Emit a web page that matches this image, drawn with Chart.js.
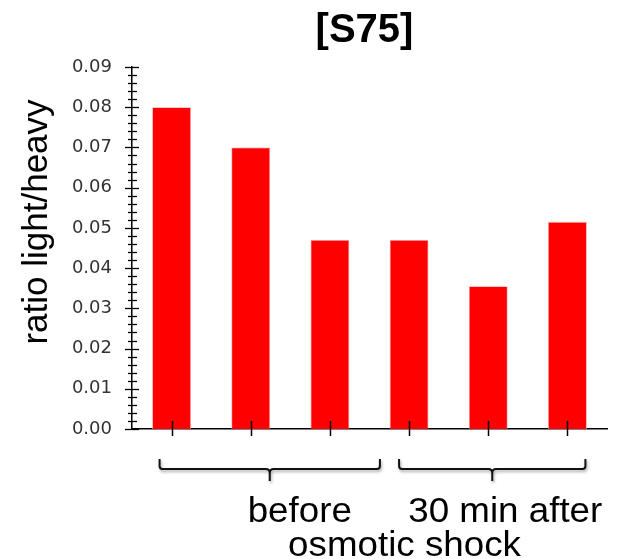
<!DOCTYPE html>
<html>
<head>
<meta charset="utf-8">
<script src="https://cdn.jsdelivr.net/npm/chart.js@4.4.1/dist/chart.umd.min.js"></script>
<style>
html,body{margin:0;padding:0;background:#fff;}
canvas{display:block;}
</style>
</head>
<body>
<canvas id="c" width="620" height="559"></canvas>
<script>
// ---- data ----
const categories = ['before 1', 'before 2', 'before 3', 'after 1', 'after 2', 'after 3'];
const ratioValues = [0.080, 0.070, 0.047, 0.047, 0.0355, 0.0515];
const yTickValues = [0.00, 0.01, 0.02, 0.03, 0.04, 0.05, 0.06, 0.07, 0.08, 0.09];
const chartTitle = '[S75]';
const yAxisTitle = 'ratio light/heavy';
const groupLabels = ['before', '30 min after'];
const groupRanges = [[0, 2], [3, 5]];
const bottomLabel = 'osmotic shock';

const FONT = '"Liberation Sans", Arial, Helvetica, sans-serif';

const decorPlugin = {
  id: 'decor',
  afterDraw(chart) {
    const ctx = chart.ctx;
    const ys = chart.scales.y, xs = chart.scales.x;
    const ca = chart.chartArea;
    const axX = ca.left;
    ctx.save();
    // y ticks: major and minor, crossing the axis
    ctx.strokeStyle = '#000';
    ctx.lineWidth = 1.3;
    const maxV = yTickValues[yTickValues.length - 1];
    for (let i = 0; i <= Math.round(maxV / 0.002); i++) {
      const v = i * 0.002;
      const py = Math.round(ys.getPixelForValue(v)) + 0.5;
      const major = i % 5 === 0;
      ctx.beginPath();
      ctx.moveTo(axX - (major ? 7 : 4), py);
      ctx.lineTo(axX + (major ? 7 : 5), py);
      ctx.stroke();
    }
    // x ticks at category centers
    ctx.lineWidth = 1.5;
    categories.forEach((c, i) => {
      const px = Math.round(xs.getPixelForValue(i)) + 0.5;
      ctx.beginPath();
      ctx.moveTo(px, ca.bottom - 8);
      ctx.lineTo(px, ca.bottom + 7);
      ctx.stroke();
    });
    // title
    ctx.fillStyle = '#000';
    ctx.font = 'bold 40px ' + FONT;
    ctx.textAlign = 'center';
    ctx.textBaseline = 'alphabetic';
    ctx.fillText(chartTitle, (ca.left + ca.right) / 2 - 5, 42);
    // y axis title
    ctx.save();
    ctx.translate(47, 222);
    ctx.rotate(-Math.PI / 2);
    ctx.font = '35px ' + FONT;
    ctx.fillText(yAxisTitle, 0, 0);
    ctx.restore();
    // braces
    const braceOffsets = [[-12, 50], [-10, 18]];
    const labelShift = [30, 13];
    groupRanges.forEach((r, gi) => {
      const x0 = xs.getPixelForValue(r[0]) + braceOffsets[gi][0];
      const x1 = xs.getPixelForValue(r[1]) + braceOffsets[gi][1];
      const xm = (x0 + x1) / 2;
      const top = ca.bottom + 30, mid = ca.bottom + 40, tip = ca.bottom + 52;
      ctx.save();
      ctx.shadowColor = 'rgba(0,0,0,0.35)';
      ctx.shadowBlur = 3;
      ctx.shadowOffsetX = 1;
      ctx.shadowOffsetY = 2;
      ctx.strokeStyle = '#111';
      ctx.lineWidth = 2;
      ctx.lineJoin = 'round';
      ctx.beginPath();
      ctx.moveTo(x0, top);
      ctx.lineTo(x0, mid - 3);
      ctx.quadraticCurveTo(x0, mid, x0 + 3, mid);
      ctx.lineTo(xm - 4, mid);
      ctx.quadraticCurveTo(xm, mid, xm, mid + 4);
      ctx.lineTo(xm, tip);
      ctx.moveTo(xm, mid + 4);
      ctx.quadraticCurveTo(xm, mid, xm + 4, mid);
      ctx.lineTo(x1 - 3, mid);
      ctx.quadraticCurveTo(x1, mid, x1, mid - 3);
      ctx.lineTo(x1, top);
      ctx.stroke();
      ctx.restore();
      // group label
      ctx.save();
      ctx.translate(xm + labelShift[gi], 522);
      ctx.scale(1.05, 1);
      ctx.font = '35px ' + FONT;
      ctx.fillStyle = '#000';
      ctx.textAlign = 'center';
      ctx.fillText(groupLabels[gi], 0, 0);
      ctx.restore();
    });
    ctx.save();
    ctx.translate(404.5, 556);
    ctx.scale(1.05, 1);
    ctx.font = '35px ' + FONT;
    ctx.fillStyle = '#000';
    ctx.textAlign = 'center';
    ctx.fillText(bottomLabel, 0, 0);
    ctx.restore();
    ctx.restore();
  }
};

new Chart(document.getElementById('c'), {
  type: 'bar',
  data: {
    labels: categories,
    datasets: [{
      data: ratioValues,
      backgroundColor: '#ff0000',
      borderColor: '#ff9a9a',
      borderWidth: 0.8,
      barPercentage: 0.49,
      categoryPercentage: 1.0
    }]
  },
  options: {
    responsive: false,
    animation: false,
    devicePixelRatio: 1,
    layout: { padding: { top: 67, right: 13, left: 0, bottom: 0 } },
    plugins: {
      legend: { display: false },
      title: { display: false },
      tooltip: { enabled: false }
    },
    scales: {
      x: {
        grid: { display: false, drawTicks: false },
        border: { display: true, color: '#000', width: 1.5 },
        ticks: { display: false },
        afterFit(scale) { scale.height = 130; }
      },
      y: {
        min: 0,
        max: yTickValues[yTickValues.length - 1],
        afterBuildTicks(scale) { scale.ticks = yTickValues.map(v => ({ value: v })); },
        grid: { display: false, drawTicks: false },
        border: { display: true, color: '#000', width: 1.5 },
        ticks: {
          padding: 20,
          color: '#333',
          font: { family: '"DejaVu Sans", sans-serif', size: 18 },
          callback: (v) => Number(v).toFixed(2)
        },
        afterFit(scale) { scale.width = 132; }
      }
    }
  },
  plugins: [decorPlugin]
});
</script>
</body>
</html>
